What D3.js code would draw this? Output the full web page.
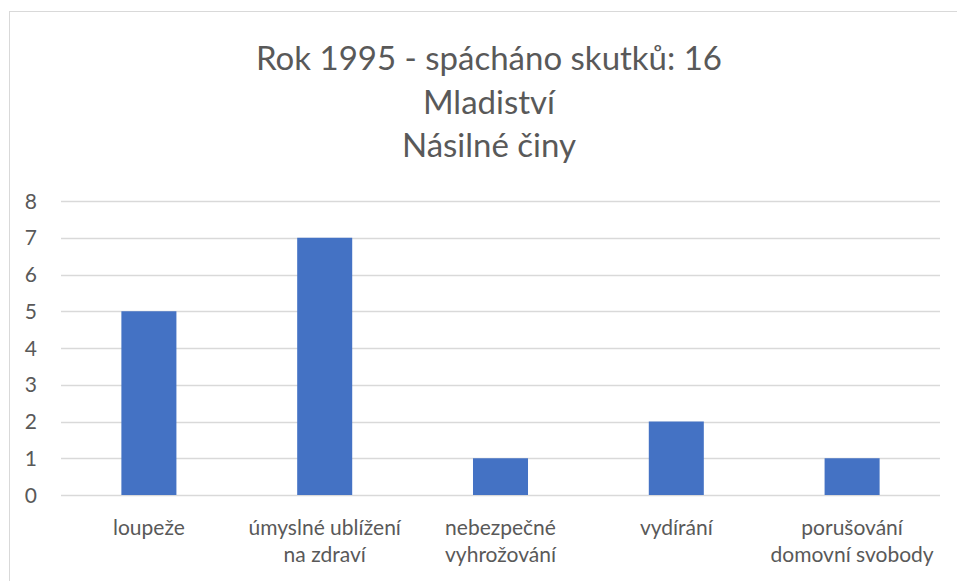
<!DOCTYPE html>
<html>
<head>
<meta charset="utf-8">
<script src="https://cdn.jsdelivr.net/npm/d3@7"></script>
<style>
  body { margin: 0; background: #fff; }
  svg { display: block; }
  text { font-family: Lato, "Open Sans", sans-serif; fill: #595959; }
</style>
</head>
<body>
<div id="chart"></div>
<script>
var categories = [["loupeže"], ["úmyslné ublížení", "na zdraví"], ["nebezpečné", "vyhrožování"], ["vydírání"], ["porušování", "domovní svobody"]];
var values = [5, 7, 1, 2, 1];
var yTicks = [0, 1, 2, 3, 4, 5, 6, 7, 8];
var titleLines = ["Rok 1995 - spácháno skutků: 16", "Mladiství", "Násilné činy"];

var width = 957, height = 581;
var svg = d3.select("#chart").append("svg")
  .attr("width", width)
  .attr("height", height);

// chart border
svg.append("rect")
  .attr("x", 9.5).attr("y", 11.5)
  .attr("width", 960).attr("height", 600)
  .attr("fill", "none")
  .attr("stroke", "#d9d9d9");

var margin = {left: 61, right: 17, top: 201, bottom: 86};
var plotW = width - margin.left - margin.right;
var plotH = height - margin.top - margin.bottom;

var x = d3.scaleBand().domain(d3.range(categories.length)).range([0, plotW]);
var y = d3.scaleLinear().domain([0, 8]).range([plotH, 0]);

var g = svg.append("g").attr("transform", "translate(" + margin.left + "," + margin.top + ")");

// gridlines
g.selectAll(".grid").data(yTicks).enter().append("line")
  .attr("x1", 0).attr("x2", plotW)
  .attr("y1", function(d) { return Math.round(y(d)) + 0.5; })
  .attr("y2", function(d) { return Math.round(y(d)) + 0.5; })
  .attr("stroke", "#d9d9d9")
  .attr("stroke-width", 1.3);

// y labels
g.selectAll(".ylab").data(yTicks).enter().append("text")
  .attr("x", -24).attr("y", function(d) { return y(d); })
  .attr("dy", "0.36em")
  .attr("text-anchor", "end")
  .style("font-size", "21px")
  .text(function(d) { return d; });

var barW = x.bandwidth() * 0.313;
g.selectAll(".bar").data(values).enter().append("rect")
  .attr("x", function(d, i) { return x(i) + x.bandwidth() / 2 - barW / 2; })
  .attr("y", function(d) { return y(d); })
  .attr("width", barW)
  .attr("height", function(d) { return plotH - y(d); })
  .attr("fill", "#4472c4");

// category labels
var labs = g.selectAll(".xlab").data(categories).enter().append("text")
  .attr("text-anchor", "middle")
  .attr("transform", function(d, i) { return "translate(" + (x(i) + x.bandwidth() / 2) + "," + (plotH + 40) + ")"; })
  .style("font-size", "21px");
labs.selectAll("tspan").data(function(d) { return d; }).enter().append("tspan")
  .attr("x", 0)
  .attr("y", function(d, i) { return i * 27; })
  .text(function(d) { return d; });

// title
svg.selectAll(".title").data(titleLines).enter().append("text")
  .attr("x", 489)
  .attr("y", function(d, i) { return 70 + i * 43.5; })
  .attr("text-anchor", "middle")
  .style("font-size", "33px")
  .text(function(d) { return d; });
</script>
</body>
</html>
